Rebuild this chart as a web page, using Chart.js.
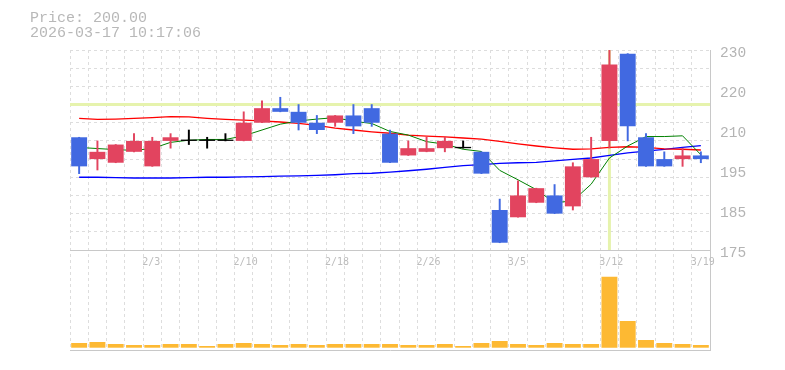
<!DOCTYPE html>
<html><head><meta charset="utf-8">
<script src="https://cdn.jsdelivr.net/npm/chart.js@4.4.1/dist/chart.umd.min.js"></script>
<style>
html,body{margin:0;padding:0;background:#fff;}
#wrap{position:relative;width:785px;height:370px;overflow:hidden;}
#hdr{position:absolute;left:30px;top:11px;font:15px "Liberation Mono",monospace;color:#b8b8b8;line-height:15px;white-space:pre;}
canvas{position:absolute;left:0;top:0;}
</style></head><body>
<div id="wrap"><canvas id="c" width="785" height="370"></canvas><div id="hdr">Price: 200.00
2026-03-17 10:17:06</div></div>
<script>
const categories = ['1/28','1/29','1/30','2/2','2/3','2/4','2/5','2/6','2/9','2/10','2/12','2/13','2/16','2/17','2/18','2/19','2/20','2/24','2/25','2/26','2/27','3/2','3/3','3/4','3/5','3/6','3/9','3/10','3/11','3/12','3/13','3/16','3/17','3/18','3/19'];
const xTickLabels = ['2/3','2/10','2/18','2/26','3/5','3/12','3/19'];
const opens  = [206,200,199,202,198,205,205,205,205,205,210,214,213,210,210,212,214,207,201,202,203,203,202,186,184,188,190,187,195,205,229,206,200,200,201];
const highs  = [206,205,204,207,206,207,208,206,207,213,216,217,215,212,212,215,215,208,205,206,206,205,202,189,194,192,193,199,206,230,229,207,202,203,202];
const lows   = [196,197,199,202,198,203,204,203,205,205,210,213,208,207,209,207,209,199,201,202,202,203,196,177,184,188,185,186,195,203,205,198,198,198,199];
const closes = [198,202,204,205,205,206,205,205,205,210,214,213,210,208,212,209,210,199,203,203,205,203,196,177,190,192,185,198,200,226,209,198,198,201,200];
const ma5  = [203.2,202.9,202.6,202.4,202.9,204.6,205.2,205.4,205.4,206.4,208.0,209.6,210.5,211.0,211.4,210.4,209.8,207.6,206.6,204.8,204.1,202.7,202.1,196.9,194.3,191.6,188.0,188.5,193.1,200.3,203.6,206.2,206.2,206.4,201.2];
const ma25 = [211.2,210.9,211.0,211.2,211.4,211.7,211.6,211.2,210.9,210.7,210.5,210.2,209.8,209.3,208.5,208.0,207.5,207.1,206.6,206.3,206.1,205.8,205.5,204.9,204.2,203.6,203.1,202.7,202.8,203.2,203.4,203.2,202.8,202.7,202.5];
const ma75 = [195.0,195.0,194.9,194.8,194.8,194.8,194.9,195.0,195.0,195.1,195.2,195.3,195.4,195.5,195.7,196.0,196.1,196.4,196.8,197.2,197.7,198.2,198.5,198.8,199.0,199.1,199.5,199.9,200.3,201.0,201.7,202.2,202.7,203.2,203.7];
const volumes = [4700,5700,3700,2700,2700,3700,3700,1700,3700,4700,3700,2700,3700,2700,3700,3700,3700,3700,2700,2700,3700,1700,4700,6700,3700,2700,4700,3700,3700,71000,26700,7700,4700,3700,2700];
const yLabelValues = [230,219,208,197,186,175];
const yTickLabels = ['230','220','210','195','185','175'];
const gridValues = [175,180,185,190,195,200,205,210,215,220,225,230];
const crossIndex = 29;
const crossPrice = 215;
const panelBottom = 175;

const UP = '#e2445f', DOWN = '#4169e1', DOJI = '#000000';
const candleColor = i => closes[i] > opens[i] ? UP : (closes[i] < opens[i] ? DOWN : DOJI);

const overlay = {
  id: 'overlay',
  beforeDatasetsDraw(chart) {
    const {ctx, chartArea: a, scales: {x, y}} = chart;
    ctx.save();
    const yb = Math.round(y.getPixelForValue(panelBottom)) + 0.5;
    ctx.strokeStyle = '#c8c8c8'; ctx.lineWidth = 1;
    ctx.beginPath(); ctx.moveTo(a.left, yb); ctx.lineTo(a.right, yb); ctx.stroke();
    ctx.strokeStyle = '#e6f3ad'; ctx.lineWidth = 3;
    const hy = y.getPixelForValue(crossPrice);
    ctx.beginPath(); ctx.moveTo(a.left, hy); ctx.lineTo(a.right, hy); ctx.stroke();
    const vx = x.getPixelForValue(crossIndex);
    ctx.beginPath(); ctx.moveTo(vx, a.top); ctx.lineTo(vx, y.getPixelForValue(panelBottom)); ctx.stroke();
    const half = (x.getPixelForValue(1) - x.getPixelForValue(0)) / 2;
    ctx.fillStyle = '#bdbdbd'; ctx.font = '10px "DejaVu Sans Mono", monospace';
    ctx.textAlign = 'left'; ctx.textBaseline = 'middle';
    categories.forEach((c, i) => {
      if (xTickLabels.includes(c)) ctx.fillText(c, x.getPixelForValue(i) - half - 1, yb + 12);
    });
    ctx.restore();
  }
};

new Chart(document.getElementById('c'), {
  type: 'bar',
  data: {
    labels: categories,
    datasets: [
      {type: 'line', data: ma75, borderColor: '#0000ff', borderWidth: 1.3, pointRadius: 0, yAxisID: 'y', order: 5},
      {type: 'line', data: ma25, borderColor: '#ff0000', borderWidth: 1.3, pointRadius: 0, yAxisID: 'y', order: 4},
      {type: 'line', data: ma5, borderColor: '#008000', borderWidth: 1, pointRadius: 0, yAxisID: 'y', order: 3},
      {type: 'bar', data: lows.map((l, i) => [l, highs[i]]), backgroundColor: categories.map((_, i) => candleColor(i)),
        barThickness: 1.3, grouped: false, yAxisID: 'y', order: 2},
      {type: 'bar', data: opens.map((o, i) => [o, closes[i]]), backgroundColor: categories.map((_, i) => candleColor(i)),
        barPercentage: 0.87, categoryPercentage: 1, minBarLength: 1.3, grouped: false, yAxisID: 'y', order: 1},
      {type: 'bar', data: volumes, backgroundColor: '#fdb933', barPercentage: 0.87, categoryPercentage: 1,
        grouped: false, yAxisID: 'yv', order: 0}
    ]
  },
  options: {
    responsive: false, animation: false, devicePixelRatio: 1,
    layout: {padding: {left: 70, top: 50, bottom: 20, right: 0}},
    plugins: {legend: {display: false}, tooltip: {enabled: false}},
    scales: {
      x: {
        offset: true,
        grid: {offset: true, color: '#dddddd', lineWidth: 1, drawTicks: false},
        border: {display: true, color: '#c8c8c8', dash: [3, 3]},
        ticks: {display: false, autoSkip: false}
      },
      y: {
        position: 'right', min: 147.5, max: 230,
        afterBuildTicks: s => { s.ticks = gridValues.map(v => ({value: v})); },
        grid: {color: '#dddddd', lineWidth: 1, drawTicks: false},
        border: {display: false, dash: [3, 3]},
        ticks: {display: false}
      },
      yl: {
        position: 'right', min: 147.5, max: 230,
        afterBuildTicks: s => { s.ticks = yLabelValues.map(v => ({value: v})); },
        afterFit: s => { s.width = 75; },
        grid: {display: false, drawTicks: false},
        border: {display: true, color: '#c8c8c8'},
        ticks: {
          padding: 10, labelOffset: 3, color: '#b4b4b4',
          font: {family: '"Liberation Mono", monospace', size: 14.5},
          callback: (v, i) => yTickLabels[i]
        }
      },
      yv: {display: false, min: -2300, max: 297700}
    }
  },
  plugins: [overlay]
});
</script>
</body></html>
